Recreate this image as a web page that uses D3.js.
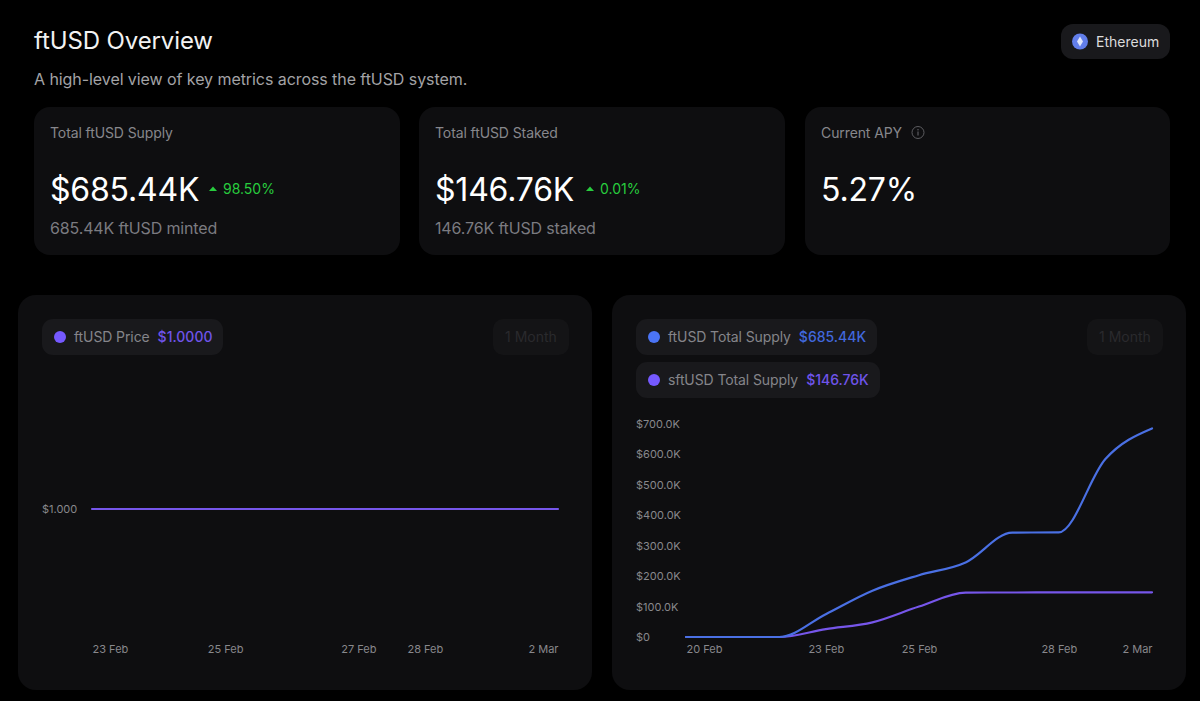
<!DOCTYPE html>
<html>
<head>
<meta charset="utf-8">
<title>ftUSD Overview</title>
<script src="https://cdn.jsdelivr.net/npm/d3@7/dist/d3.min.js"></script>
<style>
  html, body { margin: 0; padding: 0; background: #000; overflow: hidden; }
  svg { display: block; font-family: Inter, "Noto Sans", sans-serif; }
  .tick text { font-family: Inter, "Noto Sans", sans-serif; }
</style>
</head>
<body>
<svg id="dash" width="1200" height="701"></svg>
<script>
// Daily readings for the dashboard charts
const supplyDates = ["2025-02-20","2025-02-21","2025-02-22","2025-02-23","2025-02-24","2025-02-25","2025-02-26","2025-02-27","2025-02-28","2025-03-01","2025-03-02"];
const ftusdSupply = [0, 0, 0, 75000, 152000, 203000, 245000, 343000, 344000, 585000, 685440];
const sftusdSupply = [0, 0, 0, 26000, 48000, 100000, 146000, 146300, 146400, 146700, 146760];
const priceDates = ["2025-02-23","2025-02-24","2025-02-25","2025-02-26","2025-02-27","2025-02-28","2025-03-01","2025-03-02"];
const ftusdPrice = [1, 1, 1, 1, 1, 1, 1, 1];
const supplyTicks = [0, 100000, 200000, 300000, 400000, 500000, 600000, 700000];
const supplyDateTicks = ["2025-02-20","2025-02-23","2025-02-25","2025-02-28","2025-03-02"];
const priceDateTicks = ["2025-02-23","2025-02-25","2025-02-27","2025-02-28","2025-03-02"];
const priceTicks = [1];

// Stat cards across the top
const statTitles = ["Total ftUSD Supply", "Total ftUSD Staked", "Current APY"];
const statValues = ["$685.44K", "$146.76K", "5.27%"];
const statChanges = ["98.50%", "0.01%", null];
const statNotes = ["685.44K ftUSD minted", "146.76K ftUSD staked", null];

const COLORS = { card: "#0e0e10", pill: "#19191c", muted: "#87878c", note: "#7b7b80", tick: "#88888c",
  blue: "#4a70e4", blueDot: "#4b74f5", purple: "#7656ea", purpleDot: "#7559ff", green: "#28cc3e" };

// Card geometry
const statLefts = [34, 419, 805];
const statWidths = [366, 366, 365];
const arrowLefts = [213, 590];

const svg = d3.select("#dash");
const parseDay = d3.utcParse("%Y-%m-%d");
const fmtDay = d3.utcFormat("%-d %b");

function addText(parent, x, y, str, size, fill, weight, anchor, spacing) {
  return parent.append("text").attr("x", x).attr("y", y).text(str)
    .attr("font-size", size).attr("fill", fill)
    .attr("font-weight", weight || 400).attr("text-anchor", anchor || "start")
    .attr("letter-spacing", spacing || 0);
}
function addBox(x, y, w, h, r, fill) {
  return svg.append("rect").attr("x", x).attr("y", y).attr("width", w).attr("height", h).attr("rx", r).attr("fill", fill);
}

// Header
addText(svg, 34, 48.5, "ftUSD Overview", 24, "#f2f2f2", 400, "start", -0.12);
addText(svg, 34, 85, "A high-level view of key metrics across the ftUSD system.", 16, "#a3a3a6", 400, "start", -0.07);

// Network badge
addBox(1061, 24, 109, 35, 12, COLORS.pill);
svg.append("circle").attr("cx", 1080).attr("cy", 41.5).attr("r", 8).attr("fill", "#627eea");
svg.append("path").attr("d", "M1080 36.5 L1083 41.5 L1080 46.5 L1077 41.5 Z").attr("fill", "#dfe5fb");
addText(svg, 1096, 46.5, "Ethereum", 14, "#dcdcdc");

// Stat cards
statLefts.forEach((left, i) => {
  addBox(left, 107, statWidths[i], 148, 16, COLORS.card);
  const tx = left + 16;
  addText(svg, tx, 137.5, statTitles[i], 14, COLORS.muted, 400, "start", -0.1);
  addText(svg, tx, 201, statValues[i], 32, "#ffffff", 400, "start", -0.2);
  if (statChanges[i]) {
    const ax = arrowLefts[i];
    svg.append("path").attr("d", `M${ax - 4} 191 L${ax} 186.5 L${ax + 4} 191 Z`).attr("fill", COLORS.green);
    addText(svg, ax + 10, 194, statChanges[i], 14, COLORS.green);
  }
  if (statNotes[i]) addText(svg, tx, 233.5, statNotes[i], 16, COLORS.note, 400, "start", -0.15);
});

// Info glyph next to the APY title
const info = svg.append("g").attr("transform", "translate(918,132.5)");
info.append("circle").attr("r", 6).attr("fill", "none").attr("stroke", "#5c5c60").attr("stroke-width", 1);
info.append("rect").attr("x", -0.6).attr("y", -1).attr("width", 1.2).attr("height", 4).attr("fill", "#5c5c60");
info.append("circle").attr("cy", -2.7).attr("r", 0.8).attr("fill", "#5c5c60");

// Chart panels
addBox(18, 295, 574, 395, 18, COLORS.card);
addBox(612, 295, 574, 395, 18, COLORS.card);

function legendPill(x, y, w, label, value, dot, valueColor) {
  addBox(x, y, w, 36, 11, COLORS.pill);
  svg.append("circle").attr("cx", x + 18).attr("cy", y + 18).attr("r", 6).attr("fill", dot);
  const t = addText(svg, x + 32, y + 23, label, 14, "#85858a", 400, "start", -0.1);
  addText(svg, x + 32 + t.node().getComputedTextLength() + 8, y + 23, value, 14, valueColor, 500);
}
legendPill(42, 319, 181, "ftUSD Price", "$1.0000", COLORS.purpleDot, "#6f54ea");
legendPill(636, 319, 241, "ftUSD Total Supply", "$685.44K", COLORS.blueDot, "#4168dc");
legendPill(636, 362, 244, "sftUSD Total Supply", "$146.76K", COLORS.purpleDot, "#6f54ea");

// Disabled range selectors
[493, 1087].forEach(x => {
  addBox(x, 319, 76, 36, 10, "#141416");
  addText(svg, x + 38, 342, "1 Month", 14, "#2a2a2d", 400, "middle");
});

function drawChart(opts) {
  const x = d3.scaleUtc().domain(d3.extent(opts.dates, parseDay)).range(opts.xRange);
  const y = d3.scaleLinear().domain(opts.yDomain).range(opts.yRange);

  const xAxis = d3.axisBottom(x).tickValues(opts.dateTicks.map(parseDay)).tickFormat(fmtDay).tickSize(0).tickPadding(0);
  const gx = svg.append("g").attr("transform", "translate(0,637)").call(xAxis);
  gx.select(".domain").remove();
  gx.selectAll("text").attr("font-size", 11).attr("fill", COLORS.tick).attr("dy", 0).attr("y", 16);
  // End labels stay inside the plot width
  gx.selectAll("text").attr("text-anchor", d => {
    if (+d === +x.domain()[0]) return "start";
    if (+d === +x.domain()[1]) return "end";
    return "middle";
  });

  const yAxis = d3.axisLeft(y).tickValues(opts.yTicks).tickFormat(opts.yFormat).tickSize(0).tickPadding(0);
  const gy = svg.append("g").attr("transform", `translate(${opts.labelX},0)`).call(yAxis);
  gy.select(".domain").remove();
  gy.selectAll("text").attr("font-size", 11).attr("fill", COLORS.tick).attr("text-anchor", "start").attr("x", 0);

  const line = d3.line().curve(d3.curveMonotoneX)
    .x((d, i) => x(parseDay(opts.dates[i]))).y(d => y(d));
  opts.series.forEach(s => {
    svg.append("path").datum(s.values).attr("d", line)
      .attr("fill", "none").attr("stroke", s.color).attr("stroke-width", 2.2).attr("stroke-linecap", "round");
  });
}

const fmtSupply = v => v === 0 ? "$0" : "$" + d3.format(".1f")(v / 1000) + "K";

drawChart({
  dates: priceDates, dateTicks: priceDateTicks, xRange: [92, 558],
  yDomain: [0, 2], yRange: [637, 381], yTicks: priceTicks, yFormat: d => "$" + d3.format(".3f")(d), labelX: 42,
  series: [{ values: ftusdPrice, color: COLORS.purple }]
});

drawChart({
  dates: supplyDates, dateTicks: supplyDateTicks, xRange: [686, 1152],
  yDomain: [0, 700000], yRange: [637, 424], yTicks: supplyTicks, yFormat: fmtSupply, labelX: 636,
  series: [{ values: sftusdSupply, color: COLORS.purple }, { values: ftusdSupply, color: COLORS.blue }]
});
</script>
</body>
</html>
